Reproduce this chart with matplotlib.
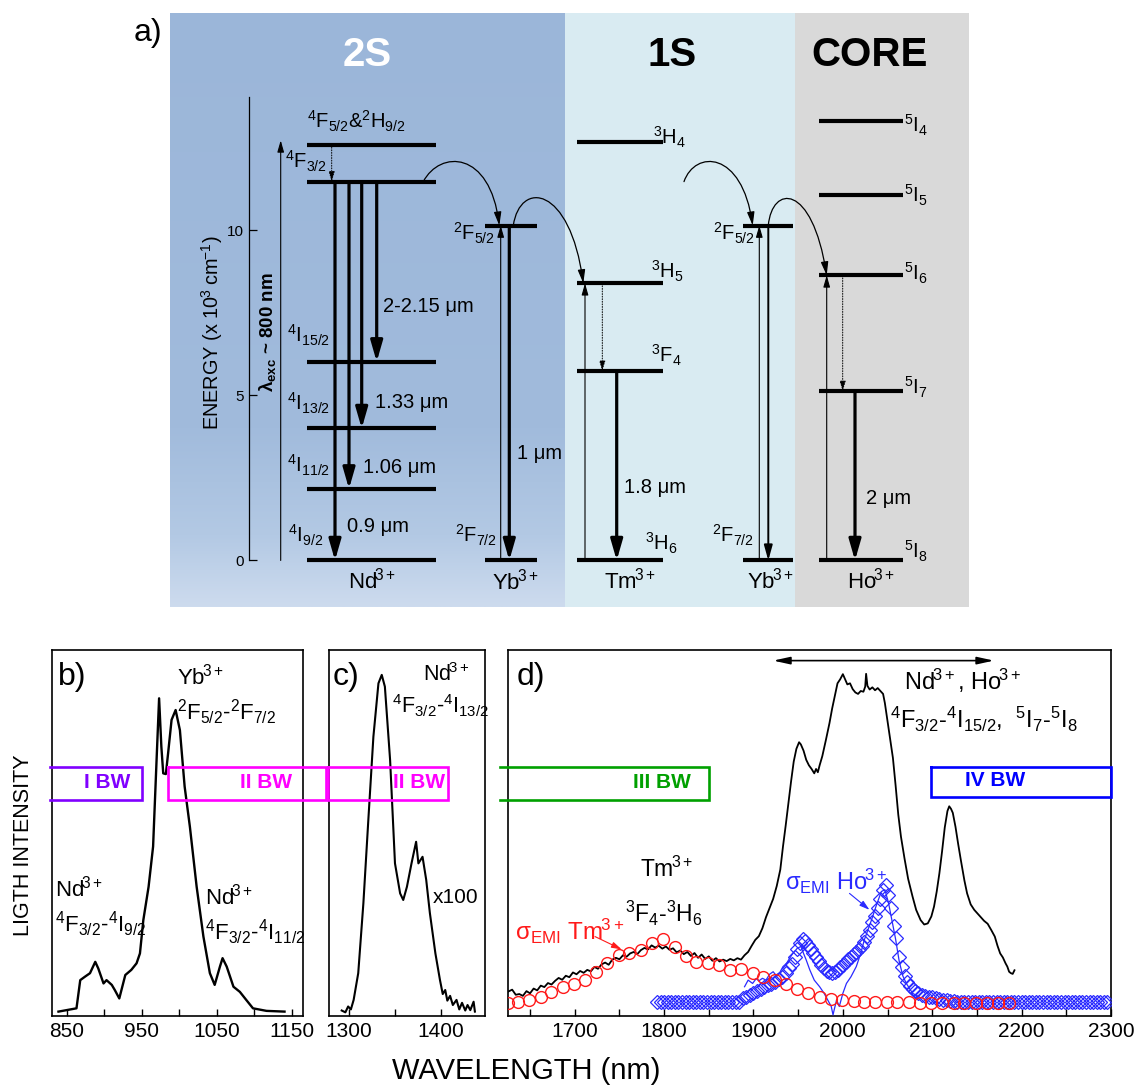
import numpy as np
import matplotlib
matplotlib.use("Agg")
import matplotlib.pyplot as plt
from matplotlib.patches import FancyArrowPatch
from matplotlib.path import Path
from matplotlib.colors import LinearSegmentedColormap
from matplotlib.lines import Line2D

plt.rcParams.update({
    "font.family": ["Liberation Sans", "DejaVu Sans"],
    "mathtext.fontset": "custom",
    "mathtext.rm": "Liberation Sans",
    "mathtext.it": "Liberation Sans:italic",
    "mathtext.bf": "Liberation Sans:bold",
    "mathtext.default": "regular",
})

# ---------------- data: energy levels (x 10^3 cm^-1) ----------------
nd_E = [0.0, 2.17, 4.00, 6.02, 11.48, 12.60]   # 4I9/2, 4I11/2, 4I13/2, 4I15/2, 4F3/2, 4F5/2
yb_E = [0.0, 10.15]                            # 2F7/2, 2F5/2
tm_E = [0.0, 5.74, 8.40, 12.68]                # 3H6, 3F4, 3H5, 3H4
ho_E = [0.0, 5.13, 8.64, 11.06, 13.31]         # 5I8, 5I7, 5I6, 5I5, 5I4
exc_E = 12.73
energy_ticks = [0, 5, 10]

# ---------------- data: spectra ----------------
b_wl = [839, 863, 868, 874, 881, 888, 892, 899, 903, 910,
        914, 920, 928, 936, 943, 947.5, 952, 959, 965, 970,
        973, 976, 978.5, 982, 985, 989.6, 995, 1000.7, 1007, 1014,
        1023, 1032, 1040.6, 1047, 1054, 1057.5, 1063, 1072, 1080.5, 1089,
        1098, 1116, 1140]
b_int = [1.2, 2.1, 9.8, 10.7, 11.7, 14.8, 13.0, 8.9, 9.8, 8.5,
         7.1, 4.8, 11.2, 12.6, 14.4, 17.1, 26.2, 35.3, 46.3, 71.8,
         86.8, 73.6, 66.3, 66.1, 71.8, 80.9, 83.6, 78.1, 62.7, 51.7,
         35.3, 21.7, 11.7, 8.5, 13.5, 15.8, 13.5, 8.0, 6.6, 4.4,
         2.1, 1.4, 1.2]

c_wl = [1292, 1296, 1299, 1302, 1305, 1310, 1315.6, 1321, 1326.5, 1332,
        1335.6, 1339, 1344.7, 1350, 1355.6, 1359, 1363, 1368, 1373, 1375.5,
        1380, 1384, 1388, 1394, 1399, 1402, 1404.7, 1407, 1410, 1413,
        1417, 1420, 1423, 1426.5, 1429, 1432, 1435.6, 1437]
c_int = [1.5, 1.0, 2.6, 1.8, 4.4, 11.7, 30.8, 53.6, 76.3, 90.9,
         93.2, 90.0, 69.9, 41.7, 33.5, 31.7, 35.3, 41.7, 47.6, 41.7,
         43.5, 37.2, 28.1, 17.1, 9.8, 6.0, 7.1, 4.2, 5.5, 3.0,
         4.4, 1.8, 3.6, 1.5, 3.0, 1.6, 3.9, 1.2]

d_wl = [1625, 1630, 1634, 1638, 1642, 1646, 1650, 1654, 1658, 1662,
        1666, 1670, 1674, 1678, 1682, 1686, 1690, 1694, 1698, 1702,
        1706, 1710, 1714, 1718, 1722, 1726, 1730, 1734, 1738, 1742,
        1746, 1750, 1754, 1758, 1762, 1766, 1770, 1774, 1778, 1782,
        1786, 1790, 1794, 1798, 1802, 1806, 1810, 1814, 1818, 1822,
        1826, 1830, 1834, 1838, 1842, 1846, 1850, 1854, 1858, 1862,
        1866, 1870, 1874, 1878, 1882, 1886, 1890, 1894, 1898, 1902,
        1906, 1910, 1914, 1918, 1922, 1926, 1930, 1933, 1936, 1939,
        1942, 1945, 1948, 1951, 1953, 1956, 1959, 1962, 1965, 1968,
        1970, 1972, 1974, 1977, 1981, 1985, 1988, 1991, 1994, 1997,
        2000, 2002, 2005, 2008, 2011, 2014, 2017, 2020, 2023, 2025,
        2026, 2027.5, 2030, 2033, 2036, 2039, 2042, 2045, 2047, 2050,
        2053, 2056, 2059, 2062, 2065, 2069, 2073, 2078, 2082, 2087,
        2091, 2095, 2099, 2102, 2105, 2108, 2111, 2114, 2117, 2119,
        2121, 2123, 2126, 2129, 2132, 2136, 2139, 2143, 2147, 2151,
        2154, 2158, 2162, 2166, 2170, 2173, 2176, 2179, 2182, 2184,
        2186, 2188, 2190, 2192]
d_int = [6.6, 7.2, 5.8, 6.0, 5.5, 6.8, 6.2, 7.5, 7.0, 8.3,
         7.9, 9.0, 8.6, 9.6, 10.4, 9.9, 11.0, 10.6, 11.9, 11.4,
         12.3, 11.8, 12.6, 12.2, 13.4, 12.9, 14.1, 14.6, 14.0, 15.4,
         15.9, 15.5, 16.6, 16.2, 17.1, 17.5, 16.9, 18.0, 18.6, 18.2,
         19.3, 18.7, 19.2, 18.4, 19.0, 18.1, 18.5, 17.4, 17.9, 16.9,
         17.5, 16.4, 17.2, 15.9, 16.8, 15.6, 16.3, 15.1, 15.8, 14.9,
         15.4, 15.0, 15.6, 15.2, 15.8, 15.4, 16.6, 17.5, 19.2, 20.8,
         21.8, 24.0, 27.0, 29.5, 32.0, 35.5, 40.0, 46.3, 52.0, 58.0,
         64.0, 69.5, 73.0, 74.8, 74.2, 72.5, 70.0, 68.5, 67.5, 66.3,
         67.5, 66.6, 68.5, 71.0, 75.4, 80.0, 84.0, 87.5, 90.9, 92.0,
         93.4, 92.3, 90.6, 90.9, 89.3, 88.4, 88.0, 88.8, 88.6, 90.0,
         93.5, 90.2, 89.2, 89.8, 89.0, 89.6, 88.8, 88.0, 85.5, 80.5,
         75.5, 70.5, 63.0, 55.0, 49.0, 43.0, 37.5, 32.6, 29.0, 26.2,
         25.0, 25.3, 27.2, 29.9, 34.0, 39.0, 45.0, 51.5, 56.0, 57.3,
         56.6, 55.5, 51.7, 47.0, 42.6, 37.0, 33.5, 30.5, 29.0, 27.9,
         27.1, 26.0, 25.2, 23.5, 21.7, 19.2, 17.1, 16.0, 14.4, 13.5,
         12.1, 11.7, 11.5, 12.5]

# sigma_EMI Tm3+ (red circles)
tm_wl = [1625, 1637, 1649, 1662, 1674, 1687, 1699, 1711, 1724, 1736,
         1749, 1761, 1774, 1786, 1799, 1812, 1824, 1836, 1849, 1861,
         1874, 1886, 1899, 1911, 1924, 1936, 1949, 1961, 1974, 1987,
         1999, 2012, 2024, 2036, 2049, 2061, 2074, 2086, 2099, 2111,
         2124, 2136, 2149, 2161, 2174, 2186]
tm_sig = [3.6, 3.9, 4.4, 5.1, 6.5, 8.0, 8.7, 9.8, 12.1, 14.6,
          16.7, 17.1, 18.0, 19.9, 21.0, 18.8, 16.4, 14.8, 14.6, 13.8,
          12.6, 12.8, 11.8, 10.7, 9.8, 8.7, 7.3, 6.2, 5.1, 4.6,
          4.4, 4.1, 3.9, 3.9, 3.8, 3.7, 3.7, 3.6, 3.6, 3.6,
          3.6, 3.6, 3.6, 3.6, 3.6, 3.6]

# sigma_EMI Ho3+ (blue diamonds)
ho_wl = [1792, 1796, 1800, 1804, 1808, 1812, 1816, 1820,
         1824, 1828, 1832, 1836, 1840, 1844, 1848, 1852,
         1856, 1860, 1864, 1868, 1872, 1876, 1880, 1884,
         1888, 1892, 1896, 1900, 1904, 1908, 1912, 1916, 1920, 1924,
         1928, 1932, 1936, 1940,
         1943, 1946, 1949, 1952, 1955, 1958, 1961, 1964, 1967, 1970,
         1973, 1976, 1979, 1982, 1985, 1988, 1991, 1994, 1997, 2000,
         2003, 2006, 2009, 2012, 2015, 2018, 2021, 2024, 2027, 2030,
         2033, 2036, 2039, 2042, 2045, 2048, 2051, 2054, 2057, 2060,
         2063, 2066, 2069, 2072, 2075, 2078, 2081, 2084,
         2088, 2092, 2096, 2100, 2104, 2108, 2112, 2116, 2120, 2124,
         2128, 2132, 2136, 2140, 2144, 2148, 2152, 2156,
         2160, 2164, 2168, 2172, 2176, 2180, 2184, 2188,
         2192, 2196, 2200, 2204, 2208, 2212, 2216, 2220,
         2224, 2228, 2232, 2236, 2240, 2244, 2248, 2252,
         2256, 2260, 2264, 2268, 2272, 2276, 2280, 2284,
         2288, 2292, 2296]
ho_sig = [3.9, 3.9, 3.9, 3.9, 3.9, 3.9, 3.9, 3.9,
          3.9, 3.9, 3.9, 3.9, 3.9, 3.9, 3.9, 3.9,
          3.9, 3.9, 3.9, 3.9, 3.9, 3.9, 3.9, 3.9,
          4.8, 5.3, 5.8, 6.3, 6.8, 7.3, 7.9, 8.4, 8.8, 9.3,
          10.0, 10.6, 11.8, 13.0,
          14.2, 16.0, 18.2, 19.9, 21.0, 20.6, 19.5, 18.3, 17.2, 16.2,
          15.1, 14.0, 13.0, 12.3, 11.9, 11.7, 12.0, 12.6, 13.3, 13.9,
          14.7, 15.5, 16.2, 16.9, 17.6, 18.4, 19.2, 20.2, 21.8, 23.6,
          25.8, 27.3, 29.5, 32.0, 34.5, 35.8, 33.1, 29.4, 24.7, 21.2,
          16.2, 13.3, 10.9, 9.2, 8.2, 7.3, 6.7, 6.2,
          5.8, 5.5, 5.3, 5.1, 4.9, 4.7, 4.5, 4.3, 4.1, 4.0,
          3.9, 3.9, 3.9, 3.9, 3.9, 3.9, 3.9, 3.9,
          3.9, 3.9, 3.9, 3.9, 3.9, 3.9, 3.9, 3.9,
          3.9, 3.9, 3.9, 3.9, 3.9, 3.9, 3.9, 3.9,
          3.9, 3.9, 3.9, 3.9, 3.9, 3.9, 3.9, 3.9,
          3.9, 3.9, 3.9, 3.9, 3.9, 3.9, 3.9, 3.9,
          3.9, 3.9, 3.9]

# thin blue line (Ho3+ measured)
hoL_wl = [1890, 1894, 1899, 1903, 1906, 1910, 1914, 1918, 1922, 1925,
          1929, 1933, 1937, 1940, 1944, 1949, 1953, 1956, 1959, 1963,
          1968, 1974, 1979, 1983, 1987, 1989, 1990, 1993, 1996, 2000,
          2004, 2009, 2015, 2020, 2024, 2028, 2032, 2037, 2043, 2047,
          2051, 2055, 2059, 2063, 2067, 2071, 2078, 2085]
hoL_int = [8.0, 9.8, 8.9, 10.2, 9.6, 10.3, 9.8, 11.4, 12.1, 11.2,
           11.7, 13.5, 14.4, 15.6, 17.1, 18.5, 19.0, 17.1, 15.3, 12.6,
           9.8, 8.0, 6.2, 4.4, 2.6, 0.3, 1.4, 4.4, 2.6, 6.2,
           8.9, 10.7, 13.5, 17.1, 20.8, 23.5, 26.2, 29.9, 34.0, 34.5,
           31.0, 26.0, 21.0, 15.0, 11.0, 8.9, 6.2, 5.3]

b_major = [850, 950, 1050, 1150]
b_minor = [900, 1000, 1100]
c_major = [1300, 1400]
c_minor = [1350]
d_major = [1700, 1800, 1900, 2000, 2100, 2200, 2300]
d_minor = [1650, 1750, 1850, 1950, 2050, 2150, 2250]

# ---------------- figure ----------------
W, H = 1137, 1088
fig = plt.figure(figsize=(W / 100, H / 100), dpi=100)


def box(l, t, r, b):
    return [l / W, 1 - b / H, (r - l) / W, (b - t) / H]


def T(x, y, s, size, ha="left", va="baseline", **kw):
    fig.text(x / W, 1 - y / H, s, fontsize=size, ha=ha, va=va, **kw)


SUP = r"\hspace{-0.11}"


def ion(name):
    return "$" + name + SUP + "^{3+}$"


# ================= panel a =================
axA = fig.add_axes(box(170, 13, 969.3, 607))
YLO, YHI = -1.41, 16.59
grad = np.linspace(0, 1, 256).reshape(-1, 1)
cmap = LinearSegmentedColormap.from_list(
    "bg", [(0, "#cddbee"), (0.12, "#b3c9e4"), (0.3, "#a1bbdc"), (1, "#9bb6d9")])
axA.imshow(grad, extent=(170, 565, YLO, YHI), origin="lower", aspect="auto",
           cmap=cmap, zorder=0)
axA.axvspan(565, 795, color="#d9ebf2", lw=0, zorder=0)
axA.axvspan(795, 969.3, color="#d9d9d9", lw=0, zorder=0)
axA.set_xlim(170, 969.3)
axA.set_ylim(YLO, YHI)
for s in ["top", "right", "bottom"]:
    axA.spines[s].set_visible(False)
axA.spines["left"].set_position(("data", 248.5))
axA.spines["left"].set_bounds(0, 14.04)
axA.spines["left"].set_linewidth(0.9)
axA.set_xticks([])
axA.set_yticks(energy_ticks)
axA.tick_params(axis="y", direction="in", length=6, width=0.9, labelsize=11, pad=3)


def level(x0, x1, e):
    axA.plot([x0, x1], [e, e], color="k", lw=3.0, solid_capstyle="butt", zorder=3)


def varrow(x, e0, e1, lw, hl, hw, ls="-"):
    axA.add_patch(FancyArrowPatch((x, e0), (x, e1),
                                  arrowstyle=f"-|>,head_length={hl},head_width={hw}",
                                  mutation_scale=10, lw=lw, color="k", linestyle=ls,
                                  shrinkA=0, shrinkB=0, zorder=4))


THICK = (2.3, 1.25, 0.36)
THIN = (0.8, 0.7, 0.2)
DOT = (0.7, 0.6, 0.18)

# Nd3+
for e in nd_E:
    level(307.3, 436, e)
varrow(331.7, nd_E[5], nd_E[4], *DOT, ls=":")
varrow(335, nd_E[4], nd_E[0], *THICK)
varrow(349, nd_E[4], nd_E[1], *THICK)
varrow(361.7, nd_E[4], nd_E[2], *THICK)
varrow(376.7, nd_E[4], nd_E[3], *THICK)
varrow(280.7, 0, exc_E, *THIN)
# Yb3+ (2S)
for e in yb_E:
    level(485, 536.7, e)
varrow(500.7, yb_E[0], yb_E[1], *THIN)
varrow(509.3, yb_E[1], yb_E[0], *THICK)
# Tm3+
for e in tm_E:
    level(577.3, 663.3, e)
varrow(585, tm_E[0], tm_E[2], *THIN)
varrow(602.3, tm_E[2], tm_E[1], *DOT, ls=":")
varrow(616.7, tm_E[1], tm_E[0], *THICK)
# Yb3+ (1S)
for e in yb_E:
    level(742.7, 793.3, e)
varrow(759.3, yb_E[0], yb_E[1], *THIN)
varrow(768.3, yb_E[1], yb_E[0], 1.4, 0.9, 0.25)
# Ho3+
for e in ho_E:
    level(819.3, 902.7, e)
varrow(826.7, ho_E[0], ho_E[2], *THIN)
varrow(842.7, ho_E[2], ho_E[1], *DOT, ls=":")
varrow(855, ho_E[1], ho_E[0], *THICK)


def curved(p0, c1, c2, p3):
    path = Path([p0, c1, c2, p3], [Path.MOVETO, Path.CURVE4, Path.CURVE4, Path.CURVE4])
    axA.add_patch(FancyArrowPatch(path=path, arrowstyle="-|>,head_length=0.8,head_width=0.22",
                                  mutation_scale=10, lw=0.9, color="k", zorder=4))


curved((423.3, nd_E[4]), (440, 12.44), (490, 12.44), (499.3, yb_E[1]))
curved((513.3, yb_E[1]), (520, 11.53), (570, 11.38), (583.3, tm_E[2]))
curved((684, 11.48), (695, 12.44), (742, 12.44), (752.7, yb_E[1]))
curved((768.3, yb_E[1]), (772, 11.38), (812, 11.47), (826.7, ho_E[2]))

# panel a texts
T(148, 33.5, "a)", 23, ha="center", va="center")
T(367, 55, "2S", 29, ha="center", va="center", color="white", fontweight="bold")
T(672.5, 55, "1S", 29, ha="center", va="center", fontweight="bold")
T(870, 55, "CORE", 29, ha="center", va="center", fontweight="bold")
T(212.5, 333, r"ENERGY (x $10" + SUP + r"^3$ $cm" + SUP + r"^{-1}$)", 14.3,
  ha="center", va="center", rotation=90)
T(267, 332, r"$λ_{exc}$ ~ 800 nm", 13.5, ha="center", va="center", rotation=90,
  fontweight="bold")

LS = 14.5
T(306.7, 128, r"$^4F_{5/2}$&$^2H_{9/2}$", LS)
T(285, 168, r"$^4F_{3/2}$", LS)
T(287.3, 343, r"$^4I_{15/2}$", LS)
T(287.3, 410, r"$^4I_{13/2}$", LS)
T(287.3, 472, r"$^4I_{11/2}$", LS)
T(288, 543, r"$^4I_{9/2}$", LS)
T(383, 312.4, "2-2.15 μm", LS)
T(375, 408.3, "1.33 μm", LS)
T(362.7, 472.6, "1.06 μm", LS)
T(347, 531.8, "0.9 μm", LS)
T(371.7, 589, ion("Nd"), 16, ha="center")

T(453.3, 240, r"$^2F_{5/2}$", LS)
T(455, 543, r"$^2F_{7/2}$", LS)
T(516.7, 458.8, "1 μm", LS)
T(515, 589.6, ion("Yb"), 16, ha="center")

T(653.3, 144, r"$^3H_4$", LS)
T(650.7, 279, r"$^3H_5$", LS)
T(651, 363, r"$^3F_4$", LS)
T(645, 550, r"$^3H_6$", LS)
T(624, 493, "1.8 μm", LS)
T(630, 589, ion("Tm"), 16, ha="center")

T(712.7, 240, r"$^2F_{5/2}$", LS)
T(711.7, 543, r"$^2F_{7/2}$", LS)
T(770, 589, ion("Yb"), 16, ha="center")

T(904, 133, r"$^5I_4$", LS)
T(904, 202, r"$^5I_5$", LS)
T(904, 281, r"$^5I_6$", LS)
T(904, 395, r"$^5I_7$", LS)
T(904, 558, r"$^5I_8$", LS)
T(866, 503.5, "2 μm", LS)
T(871, 589, ion("Ho"), 16, ha="center")


# ================= spectra panels =================
def spec_ax(l, r, xlim, major, minor):
    ax = fig.add_axes(box(l, 650, r, 1016))
    ax.set_xlim(*xlim)
    ax.set_ylim(0, 100)
    ax.set_yticks([])
    ax.set_xticks(major)
    ax.set_xticks(minor, minor=True)
    ax.tick_params(axis="x", which="both", direction="in", length=5, width=1.0,
                   labelsize=15, pad=4)
    for s in ax.spines.values():
        s.set_linewidth(1.2)
    return ax


axb = spec_ax(51.7, 303.3, (830, 1165), b_major, b_minor)
axc = spec_ax(329.3, 485, (1278.5, 1448), c_major, c_minor)
axd = spec_ax(507.7, 1111, (1625, 2300), d_major, d_minor)

axb.plot(b_wl, b_int, color="k", lw=1.7)
axc.plot(c_wl, c_int, color="k", lw=1.5)
axd.plot(d_wl, d_int, color="k", lw=1.3, zorder=2)
axd.plot(hoL_wl, hoL_int, color="#2a2aff", lw=0.9, zorder=3)
axd.plot(ho_wl, ho_sig, "D", mfc="none", mec="#2a2aff", ms=7.5, mew=0.9, zorder=3)
axd.plot(tm_wl, tm_sig, "o", mfc="none", mec="#ff1a1a", ms=8.5, mew=1.0, zorder=4)

# arrows in panel d
axd.annotate("", xy=(1922, 97.1), xytext=(2169, 97.1),
             arrowprops=dict(arrowstyle="<|-|>,head_length=1.0,head_width=0.22",
                             mutation_scale=10, lw=1.2, color="k", shrinkA=0, shrinkB=0))
axd.annotate("", xy=(1752.5, 18.2), xytext=(1722.7, 21.7),
             arrowprops=dict(arrowstyle="-|>,head_length=0.6,head_width=0.18",
                             mutation_scale=10, lw=0.8, color="#ff1a1a", shrinkA=0, shrinkB=0))
axd.annotate("", xy=(2029.8, 29.0), xytext=(2007.4, 33.5),
             arrowprops=dict(arrowstyle="-|>,head_length=0.6,head_width=0.18",
                             mutation_scale=10, lw=0.8, color="#2a2aff", shrinkA=0, shrinkB=0))


# bandwidth boxes (figure pixels)
def bw(x0, x1, y0, y1, color, label, lx, ly, open_left=False):
    if open_left:
        xs, ys = [x0, x1, x1, x0], [y0, y0, y1, y1]
    else:
        xs, ys = [x0, x1, x1, x0, x0], [y0, y0, y1, y1, y0]
    fig.add_artist(Line2D([x / W for x in xs], [1 - y / H for y in ys],
                          transform=fig.transFigure, color=color, lw=1.9,
                          solid_joinstyle="miter"))
    T(lx, ly, label, 15, ha="center", va="center", color=color, fontweight="bold")


bw(50, 142.3, 766.7, 799.5, "#8000ff", "I BW", 107.5, 782.3, open_left=True)
bw(167.7, 326, 766.7, 799.5, "#ff00ff", "II BW", 266, 782.3)
bw(328, 447.7, 766.7, 799.5, "#ff00ff", "II BW", 419, 782.3)
bw(500, 709, 766.7, 799.5, "#00a000", "III BW", 662, 782.3, open_left=True)
bw(931, 1111, 766.7, 797.3, "#0000ff", "IV BW", 995, 780)

# panel texts
T(58, 685, "b)", 23)
T(333, 685, "c)", 23)
T(517, 685, "d)", 23)
T(177, 685, ion("Yb"), 16)
T(177, 720, r"$^2F_{5/2}$-$^2F_{7/2}$", 16)
T(55, 897, ion("Nd"), 16)
T(55, 932, r"$^4F_{3/2}$-$^4I_{9/2}$", 16)
T(205, 905, ion("Nd"), 16)
T(205, 940, r"$^4F_{3/2}$-$^4I_{11/2}$", 16)
T(423, 681, ion("Nd"), 15.5)
T(392, 713, r"$^4F_{3/2}$-$^4I_{13/2}$", 15.5)
T(433, 903, "x100", 15)
T(904, 690, ion("Nd") + ", " + ion("Ho"), 17)
T(890, 728, r"$^4F_{3/2}$-$^4I_{15/2}$,  $^5I_7$-$^5I_8$", 17)
T(640, 877, ion("Tm"), 16.5)
T(625, 921.7, r"$^3F_4$-$^3H_6$", 16.5)
T(515, 940, r"$σ_{EMI}$ " + ion("Tm"), 17.5, color="#ff1a1a")
T(785, 890, r"$σ_{EMI}$ " + ion("Ho"), 17, color="#2a2aff")

T(526, 1071, "WAVELENGTH (nm)", 21, ha="center", va="center")
T(23.5, 845, "LIGTH INTENSITY", 15.5, ha="center", va="center", rotation=90)

fig.savefig("out.png", dpi=100)
